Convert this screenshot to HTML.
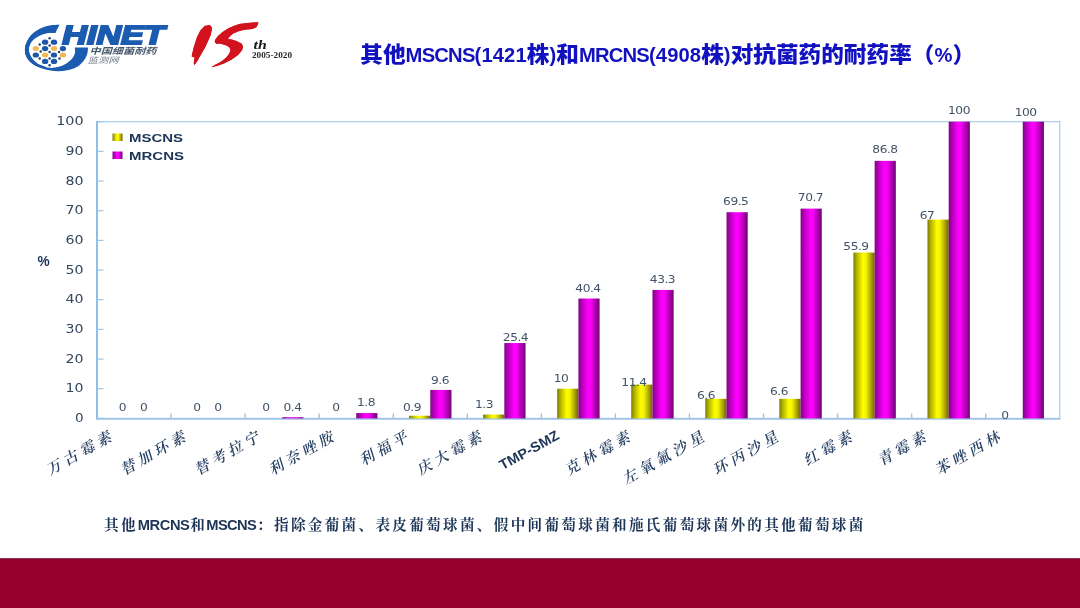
<!DOCTYPE html>
<html lang="zh-CN">
<head>
<meta charset="utf-8">
<title>其他MSCNS和MRCNS对抗菌药的耐药率</title>
<style>
html,body{margin:0;padding:0;background:#fff;overflow:hidden;}
html{width:1080px;height:608px;}
body{width:1080px;height:608px;position:relative;overflow:hidden;font-family:"Liberation Sans","Noto Sans CJK SC",sans-serif;}
#title{position:absolute;left:360.3px;top:37.6px;white-space:nowrap;color:#1111c0;font-weight:900;font-size:22.65px;transform:scaleY(0.96);line-height:32px;font-family:"Liberation Sans","Noto Sans CJK SC",sans-serif;transform-origin:0 50%;}
#title .l{font-size:20.2px;letter-spacing:-0.78px;font-weight:bold;}
#title .d{font-size:20.2px;letter-spacing:0.1px;font-weight:bold;}
#foot{position:absolute;left:104px;top:513px;white-space:nowrap;color:#1c3557;font-weight:bold;font-size:14.6px;line-height:24px;letter-spacing:2.31px;font-family:"Liberation Sans","Noto Serif CJK SC",serif;transform-origin:0 50%;}
#foot .l{font-size:14.7px;letter-spacing:-0.45px;margin-right:0.8px;}
#foot .l2{font-size:14.7px;letter-spacing:-0.66px;margin-right:1px;}
#foot .h{letter-spacing:1.5px;}
svg{position:absolute;left:0;top:0;}
.yl{font-family:"DejaVu Sans","Liberation Sans",sans-serif;font-size:12px;fill:#33475f;}
.dl{font-family:"DejaVu Sans","Liberation Sans",sans-serif;font-size:10.2px;fill:#425368;letter-spacing:-0.4px;}
.xl{font-family:"Liberation Serif","Noto Serif CJK SC",serif;font-size:14.8px;fill:#263f63;letter-spacing:4.2px;font-weight:600;}
.xb{font-family:"Liberation Sans",sans-serif;font-size:14px;fill:#1c3557;font-weight:bold;}
.lg{font-family:"Liberation Sans",sans-serif;font-size:11px;fill:#1c3557;font-weight:bold;}
</style>
</head>
<body>

<svg id="chart" width="1080" height="608" viewBox="0 0 1080 608">
<defs>
<linearGradient id="gy" x1="0" y1="0" x2="1" y2="0">
<stop offset="0" stop-color="#77760a"/><stop offset="0.12" stop-color="#a9a800"/><stop offset="0.45" stop-color="#ffff00"/><stop offset="0.6" stop-color="#f2f200"/><stop offset="0.88" stop-color="#9a8f00"/><stop offset="1" stop-color="#6f6208"/>
</linearGradient>
<linearGradient id="gm" x1="0" y1="0" x2="1" y2="0">
<stop offset="0" stop-color="#7a0a80"/><stop offset="0.12" stop-color="#a800ac"/><stop offset="0.45" stop-color="#ff00ff"/><stop offset="0.6" stop-color="#f200f2"/><stop offset="0.88" stop-color="#97009a"/><stop offset="1" stop-color="#6c0872"/>
</linearGradient>
</defs>
<rect x="97.0" y="121.7" width="962.78" height="296.7" fill="none" stroke="#a9cdee" stroke-width="1.2"/>
<line x1="97.0" y1="121.2" x2="97.0" y2="419.4" stroke="#8fbfe8" stroke-width="2"/>
<line x1="96.0" y1="418.79999999999995" x2="1060.28" y2="418.79999999999995" stroke="#9ec3e6" stroke-width="1.8"/>
<line x1="97.0" y1="418.40" x2="103.5" y2="418.40" stroke="#9cc6ea" stroke-width="1.2"/>
<text class="yl" x="75.00" y="421.90" textLength="8.60" lengthAdjust="spacingAndGlyphs">0</text>
<line x1="97.0" y1="388.73" x2="103.5" y2="388.73" stroke="#9cc6ea" stroke-width="1.2"/>
<text class="yl" x="65.60" y="392.23" textLength="18.00" lengthAdjust="spacingAndGlyphs">10</text>
<line x1="97.0" y1="359.06" x2="103.5" y2="359.06" stroke="#9cc6ea" stroke-width="1.2"/>
<text class="yl" x="65.60" y="362.56" textLength="18.00" lengthAdjust="spacingAndGlyphs">20</text>
<line x1="97.0" y1="329.39" x2="103.5" y2="329.39" stroke="#9cc6ea" stroke-width="1.2"/>
<text class="yl" x="65.60" y="332.89" textLength="18.00" lengthAdjust="spacingAndGlyphs">30</text>
<line x1="97.0" y1="299.72" x2="103.5" y2="299.72" stroke="#9cc6ea" stroke-width="1.2"/>
<text class="yl" x="65.60" y="303.22" textLength="18.00" lengthAdjust="spacingAndGlyphs">40</text>
<line x1="97.0" y1="270.05" x2="103.5" y2="270.05" stroke="#9cc6ea" stroke-width="1.2"/>
<text class="yl" x="65.60" y="273.55" textLength="18.00" lengthAdjust="spacingAndGlyphs">50</text>
<line x1="97.0" y1="240.38" x2="103.5" y2="240.38" stroke="#9cc6ea" stroke-width="1.2"/>
<text class="yl" x="65.60" y="243.88" textLength="18.00" lengthAdjust="spacingAndGlyphs">60</text>
<line x1="97.0" y1="210.71" x2="103.5" y2="210.71" stroke="#9cc6ea" stroke-width="1.2"/>
<text class="yl" x="65.60" y="214.21" textLength="18.00" lengthAdjust="spacingAndGlyphs">70</text>
<line x1="97.0" y1="181.04" x2="103.5" y2="181.04" stroke="#9cc6ea" stroke-width="1.2"/>
<text class="yl" x="65.60" y="184.54" textLength="18.00" lengthAdjust="spacingAndGlyphs">80</text>
<line x1="97.0" y1="151.37" x2="103.5" y2="151.37" stroke="#9cc6ea" stroke-width="1.2"/>
<text class="yl" x="65.60" y="154.87" textLength="18.00" lengthAdjust="spacingAndGlyphs">90</text>
<line x1="97.0" y1="121.70" x2="103.5" y2="121.70" stroke="#9cc6ea" stroke-width="1.2"/>
<text class="yl" x="56.20" y="125.20" textLength="27.40" lengthAdjust="spacingAndGlyphs">100</text>
<line x1="171.06" y1="418.4" x2="171.06" y2="413.4" stroke="#9cc6ea" stroke-width="1.4"/>
<line x1="245.12" y1="418.4" x2="245.12" y2="413.4" stroke="#9cc6ea" stroke-width="1.4"/>
<line x1="319.18" y1="418.4" x2="319.18" y2="413.4" stroke="#9cc6ea" stroke-width="1.4"/>
<line x1="393.24" y1="418.4" x2="393.24" y2="413.4" stroke="#9cc6ea" stroke-width="1.4"/>
<line x1="467.3" y1="418.4" x2="467.3" y2="413.4" stroke="#9cc6ea" stroke-width="1.4"/>
<line x1="541.36" y1="418.4" x2="541.36" y2="413.4" stroke="#9cc6ea" stroke-width="1.4"/>
<line x1="615.4200000000001" y1="418.4" x2="615.4200000000001" y2="413.4" stroke="#9cc6ea" stroke-width="1.4"/>
<line x1="689.48" y1="418.4" x2="689.48" y2="413.4" stroke="#9cc6ea" stroke-width="1.4"/>
<line x1="763.54" y1="418.4" x2="763.54" y2="413.4" stroke="#9cc6ea" stroke-width="1.4"/>
<line x1="837.6" y1="418.4" x2="837.6" y2="413.4" stroke="#9cc6ea" stroke-width="1.4"/>
<line x1="911.6600000000001" y1="418.4" x2="911.6600000000001" y2="413.4" stroke="#9cc6ea" stroke-width="1.4"/>
<line x1="985.72" y1="418.4" x2="985.72" y2="413.4" stroke="#9cc6ea" stroke-width="1.4"/>
<text class="lg" x="37.6" y="266.2" style="font-size:14.8px" textLength="12.2" lengthAdjust="spacingAndGlyphs">%</text>
<rect x="112.5" y="133.5" width="10" height="7.5" fill="url(#gy)"/>
<text class="lg" x="129" y="141.6" textLength="54" lengthAdjust="spacingAndGlyphs">MSCNS</text>
<rect x="112.5" y="151.5" width="10" height="7.5" fill="url(#gm)"/>
<text class="lg" x="129" y="159.6" textLength="55" lengthAdjust="spacingAndGlyphs">MRCNS</text>
<rect x="282.15" y="417.21" width="21.2" height="1.19" fill="url(#gm)"/>
<rect x="356.21" y="413.06" width="21.2" height="5.34" fill="url(#gm)"/>
<rect x="409.07" y="415.73" width="21.2" height="2.67" fill="url(#gy)"/>
<rect x="430.27" y="389.92" width="21.2" height="28.48" fill="url(#gm)"/>
<rect x="483.13" y="414.54" width="21.2" height="3.86" fill="url(#gy)"/>
<rect x="504.33" y="343.04" width="21.2" height="75.36" fill="url(#gm)"/>
<rect x="557.19" y="388.73" width="21.2" height="29.67" fill="url(#gy)"/>
<rect x="578.39" y="298.53" width="21.2" height="119.87" fill="url(#gm)"/>
<rect x="631.25" y="384.58" width="21.2" height="33.82" fill="url(#gy)"/>
<rect x="652.45" y="289.93" width="21.2" height="128.47" fill="url(#gm)"/>
<rect x="705.31" y="398.82" width="21.2" height="19.58" fill="url(#gy)"/>
<rect x="726.51" y="212.19" width="21.2" height="206.21" fill="url(#gm)"/>
<rect x="779.37" y="398.82" width="21.2" height="19.58" fill="url(#gy)"/>
<rect x="800.57" y="208.63" width="21.2" height="209.77" fill="url(#gm)"/>
<rect x="853.43" y="252.54" width="21.2" height="165.86" fill="url(#gy)"/>
<rect x="874.63" y="160.86" width="21.2" height="257.54" fill="url(#gm)"/>
<rect x="927.49" y="219.61" width="21.2" height="198.79" fill="url(#gy)"/>
<rect x="948.69" y="121.70" width="21.2" height="296.70" fill="url(#gm)"/>
<rect x="1022.75" y="121.70" width="21.2" height="296.70" fill="url(#gm)"/>
<text class="dl" transform="translate(122.5,411.20) scale(1.2,1)" text-anchor="middle">0</text>
<text class="dl" transform="translate(143.75,411.20) scale(1.2,1)" text-anchor="middle">0</text>
<text class="dl" transform="translate(197,411.20) scale(1.2,1)" text-anchor="middle">0</text>
<text class="dl" transform="translate(218,411.20) scale(1.2,1)" text-anchor="middle">0</text>
<text class="dl" transform="translate(266,411.20) scale(1.2,1)" text-anchor="middle">0</text>
<text class="dl" transform="translate(292.5,410.70) scale(1.2,1)" text-anchor="middle">0.4</text>
<text class="dl" transform="translate(336,411.20) scale(1.2,1)" text-anchor="middle">0</text>
<text class="dl" transform="translate(366,406.20) scale(1.2,1)" text-anchor="middle">1.8</text>
<text class="dl" transform="translate(412,410.70) scale(1.2,1)" text-anchor="middle">0.9</text>
<text class="dl" transform="translate(440,383.70) scale(1.2,1)" text-anchor="middle">9.6</text>
<text class="dl" transform="translate(484,407.70) scale(1.2,1)" text-anchor="middle">1.3</text>
<text class="dl" transform="translate(515.5,341.20) scale(1.2,1)" text-anchor="middle">25.4</text>
<text class="dl" transform="translate(561,381.70) scale(1.2,1)" text-anchor="middle">10</text>
<text class="dl" transform="translate(588,291.70) scale(1.2,1)" text-anchor="middle">40.4</text>
<text class="dl" transform="translate(634,386.20) scale(1.2,1)" text-anchor="middle">11.4</text>
<text class="dl" transform="translate(662.5,283.20) scale(1.2,1)" text-anchor="middle">43.3</text>
<text class="dl" transform="translate(706,398.70) scale(1.2,1)" text-anchor="middle">6.6</text>
<text class="dl" transform="translate(735.75,205.45) scale(1.2,1)" text-anchor="middle">69.5</text>
<text class="dl" transform="translate(779,394.70) scale(1.2,1)" text-anchor="middle">6.6</text>
<text class="dl" transform="translate(810.5,200.70) scale(1.2,1)" text-anchor="middle">70.7</text>
<text class="dl" transform="translate(856,249.70) scale(1.2,1)" text-anchor="middle">55.9</text>
<text class="dl" transform="translate(885,152.70) scale(1.2,1)" text-anchor="middle">86.8</text>
<text class="dl" transform="translate(927,219.20) scale(1.2,1)" text-anchor="middle">67</text>
<text class="dl" transform="translate(959,114.10) scale(1.2,1)" text-anchor="middle">100</text>
<text class="dl" transform="translate(1005,418.70) scale(1.2,1)" text-anchor="middle">0</text>
<text class="dl" transform="translate(1025.6,115.70) scale(1.2,1)" text-anchor="middle">100</text>
<text class="xl" transform="translate(114.5,432.7) rotate(-29.5) skewX(-12)" text-anchor="end" x="0" y="5.5">万古霉素</text>
<text class="xl" transform="translate(188.6,432.7) rotate(-29.5) skewX(-12)" text-anchor="end" x="0" y="5.5">替加环素</text>
<text class="xl" transform="translate(262.6,432.7) rotate(-29.5) skewX(-12)" text-anchor="end" x="0" y="5.5">替考拉宁</text>
<text class="xl" transform="translate(336.7,432.7) rotate(-29.5) skewX(-12)" text-anchor="end" x="0" y="5.5">利奈唑胺</text>
<text class="xl" transform="translate(410.8,432.7) rotate(-29.5) skewX(-12)" text-anchor="end" x="0" y="5.5">利福平</text>
<text class="xl" transform="translate(484.8,432.7) rotate(-29.5) skewX(-12)" text-anchor="end" x="0" y="5.5">庆大霉素</text>
<text class="xb" transform="translate(558.9,432.7) rotate(-29)" text-anchor="end" x="-1.5" y="5.6" textLength="66" lengthAdjust="spacingAndGlyphs">TMP-SMZ</text>
<text class="xl" transform="translate(633.0,432.7) rotate(-29.5) skewX(-12)" text-anchor="end" x="0" y="5.5">克林霉素</text>
<text class="xl" transform="translate(707.0,432.7) rotate(-29.5) skewX(-12)" text-anchor="end" x="0" y="5.5">左氧氟沙星</text>
<text class="xl" transform="translate(781.1,432.7) rotate(-29.5) skewX(-12)" text-anchor="end" x="0" y="5.5">环丙沙星</text>
<text class="xl" transform="translate(855.1,432.7) rotate(-29.5) skewX(-12)" text-anchor="end" x="0" y="5.5">红霉素</text>
<text class="xl" transform="translate(929.2,432.7) rotate(-29.5) skewX(-12)" text-anchor="end" x="0" y="5.5">青霉素</text>
<text class="xl" transform="translate(1003.2,432.7) rotate(-29.5) skewX(-12)" text-anchor="end" x="0" y="5.5">苯唑西林</text>
<rect x="0" y="558.4" width="1080" height="50" fill="#95002d"/><rect x="0" y="558.4" width="1080" height="1" fill="#7a0a2a"/>
<g id="logo1">
<path d="M59.46,24.71 C57.81,24.82 52.88,24.74 49.59,25.40 C46.30,26.06 42.69,27.12 39.73,28.65 C36.77,30.18 34.01,32.32 31.84,34.57 C29.67,36.82 27.86,39.83 26.71,42.17 C25.56,44.50 25.06,46.36 24.93,48.58 C24.80,50.80 25.10,53.35 25.92,55.48 C26.74,57.62 28.06,59.59 29.86,61.40 C31.67,63.21 33.97,64.94 36.77,66.34 C39.56,67.73 43.18,68.97 46.63,69.79 C50.09,70.61 54.03,71.19 57.48,71.27 C60.94,71.35 64.23,70.94 67.35,70.28 C70.47,69.62 73.60,68.80 76.23,67.32 C78.86,65.84 81.32,63.54 83.13,61.40 C84.94,59.27 86.26,56.80 87.08,54.50 C87.90,52.20 87.90,48.74 88.06,47.59 L74.75,47.59 C74.80,48.42 75.45,50.72 75.04,52.53 C74.63,54.33 73.73,56.64 72.28,58.44 C70.83,60.25 68.66,61.98 66.36,63.38 C64.06,64.77 61.27,66.09 58.47,66.83 C55.68,67.57 52.55,68.06 49.59,67.82 C46.63,67.57 43.35,66.58 40.72,65.35 C38.08,64.12 35.62,62.23 33.81,60.42 C32.00,58.61 30.69,56.47 29.86,54.50 C29.04,52.53 28.71,50.55 28.88,48.58 C29.04,46.61 29.70,44.47 30.85,42.66 C32.00,40.85 33.81,39.13 35.78,37.73 C37.76,36.33 40.39,35.10 42.69,34.28 C44.99,33.45 47.46,33.04 49.59,32.80 C51.73,32.55 54.53,32.80 55.51,32.80 Z" fill="#1b5bb0"/>
<clipPath id="cc"><path d="M59.46,24.71 C57.81,24.82 52.88,24.74 49.59,25.40 C46.30,26.06 42.69,27.12 39.73,28.65 C36.77,30.18 34.01,32.32 31.84,34.57 C29.67,36.82 27.86,39.83 26.71,42.17 C25.56,44.50 25.06,46.36 24.93,48.58 C24.80,50.80 25.10,53.35 25.92,55.48 C26.74,57.62 28.06,59.59 29.86,61.40 C31.67,63.21 33.97,64.94 36.77,66.34 C39.56,67.73 43.18,68.97 46.63,69.79 C50.09,70.61 54.03,71.19 57.48,71.27 C60.94,71.35 64.23,70.94 67.35,70.28 C70.47,69.62 73.60,68.80 76.23,67.32 C78.86,65.84 81.32,63.54 83.13,61.40 C84.94,59.27 86.26,56.80 87.08,54.50 C87.90,52.20 87.90,48.74 88.06,47.59 L74.75,47.59 C74.80,48.42 75.45,50.72 75.04,52.53 C74.63,54.33 73.73,56.64 72.28,58.44 C70.83,60.25 68.66,61.98 66.36,63.38 C64.06,64.77 61.27,66.09 58.47,66.83 C55.68,67.57 52.55,68.06 49.59,67.82 C46.63,67.57 43.35,66.58 40.72,65.35 C38.08,64.12 35.62,62.23 33.81,60.42 C32.00,58.61 30.69,56.47 29.86,54.50 C29.04,52.53 28.71,50.55 28.88,48.58 C29.04,46.61 29.70,44.47 30.85,42.66 C32.00,40.85 33.81,39.13 35.78,37.73 C37.76,36.33 40.39,35.10 42.69,34.28 C44.99,33.45 47.46,33.04 49.59,32.80 C51.73,32.55 54.53,32.80 55.51,32.80 Z"/><polygon points="59.5,47.5 65.2,21 174,21 174,47.5"/></clipPath>
<ellipse cx="45.1" cy="42.2" rx="3.2" ry="2.6" fill="#1c57a8"/>
<ellipse cx="54.0" cy="42.2" rx="3.2" ry="2.6" fill="#1c57a8"/>
<ellipse cx="45.1" cy="48.6" rx="3.2" ry="2.6" fill="#1c57a8"/>
<ellipse cx="62.9" cy="48.6" rx="3.2" ry="2.6" fill="#1c57a8"/>
<ellipse cx="35.8" cy="55.0" rx="3.2" ry="2.6" fill="#1c57a8"/>
<ellipse cx="54.0" cy="55.0" rx="3.2" ry="2.6" fill="#1c57a8"/>
<ellipse cx="45.1" cy="61.4" rx="3.2" ry="2.6" fill="#1c57a8"/>
<ellipse cx="54.0" cy="61.4" rx="3.2" ry="2.6" fill="#1c57a8"/>
<ellipse cx="35.8" cy="48.6" rx="3.2" ry="2.5" fill="#f1b955"/>
<ellipse cx="54.0" cy="48.6" rx="3.2" ry="2.5" fill="#f1b955"/>
<ellipse cx="45.1" cy="55.0" rx="3.2" ry="2.5" fill="#f1b955"/>
<ellipse cx="62.9" cy="55.0" rx="3.2" ry="2.5" fill="#f1b955"/>
<circle cx="49.6" cy="38.2" r="1.25" fill="#23466f"/>
<circle cx="39.7" cy="44.6" r="1.25" fill="#23466f"/>
<circle cx="49.6" cy="45.6" r="1.25" fill="#23466f"/>
<circle cx="40.7" cy="51.5" r="1.25" fill="#23466f"/>
<circle cx="49.6" cy="52.0" r="1.25" fill="#23466f"/>
<circle cx="59.0" cy="52.0" r="1.25" fill="#23466f"/>
<circle cx="39.7" cy="58.4" r="1.25" fill="#23466f"/>
<circle cx="49.6" cy="58.4" r="1.25" fill="#23466f"/>
<circle cx="59.5" cy="58.4" r="1.25" fill="#23466f"/>
<circle cx="49.6" cy="65.3" r="1.25" fill="#23466f"/>
<g clip-path="url(#cc)"><text font-family="'Liberation Sans',sans-serif" font-weight="bold" font-style="italic" fill="#1b5bb0" stroke="#1b5bb0"><tspan x="22.5" y="65.5" font-size="50" stroke-width="3">C</tspan><tspan x="62.3" y="43.6" font-size="25.2" stroke-width="1.8" textLength="102.3" lengthAdjust="spacingAndGlyphs">HINET</tspan></text></g>
<text x="89.5" y="54.4" font-family="'Liberation Sans','Noto Sans CJK SC',sans-serif" font-weight="bold" font-style="italic" font-size="8.6" fill="#46566a" textLength="67" lengthAdjust="spacingAndGlyphs" transform="translate(0,0)">中国细菌耐药</text>
<text x="87.5" y="63.2" font-family="'Liberation Sans','Noto Sans CJK SC',sans-serif" font-style="italic" font-size="8" fill="#6c7785" textLength="31" lengthAdjust="spacingAndGlyphs">监测网</text>
</g>
<g id="logo2">
<clipPath id="c15"><polygon points="204.7,25.7 209.7,24.7 212.1,27.8 210.8,34.7 205.2,47.6 198.3,59.4 194.6,65.1 193.7,63.3 194.7,57.6 191.7,56.4 193.2,48.5 196.6,37.7 200.8,29.8"/><polygon points="258.5,22.3 253.9,22.3 246.6,22.9 240.1,23.8 233.6,26.0 228.1,28.4 222.6,31.9 218.0,35.8 215.2,39.5 214.6,41.8 216.1,43.6 221.7,44.1 226.3,45.5 229.5,47.8 230.4,50.6 229.0,53.8 226.3,57.5 221.7,61.2 215.2,64.8 211.1,67.2 217.1,66.0 224.4,63.2 231.8,59.5 238.3,54.9 242.4,50.1 243.1,46.4 241.5,43.6 237.3,41.3 232.7,39.8 228.1,38.9 229.5,36.7 232.7,34.0 238.3,31.4 244.7,29.8 252.1,28.9 256.2,27.5 257.6,25.2"/></clipPath>
<g clip-path="url(#c15)"><text transform="matrix(0.6843 -0.0544 -0.3405 0.6120 197.21 67.40)" font-family="'Liberation Sans',sans-serif" font-weight="bold" font-style="italic" font-size="100" fill="#d2121c" stroke="#d2121c" stroke-linejoin="round"><tspan x="-43.2" y="-3.2" stroke-width="30">1</tspan><tspan x="0" y="0" stroke-width="9">5</tspan></text></g>
<text x="253.6" y="48.5" font-family="'Liberation Serif',serif" font-weight="bold" font-style="italic" font-size="12.5" fill="#1a1a1a" textLength="13.2" lengthAdjust="spacingAndGlyphs">th</text>
<text x="252" y="58" font-family="'Liberation Serif',serif" font-weight="bold" font-size="7.6" fill="#2a2a2a" textLength="40" lengthAdjust="spacingAndGlyphs">2005-2020</text>
</g>
</svg>
<div id="title">其他<span class="l">MSCNS</span><span class="d">(1421</span>株<span class="d">)</span>和<span class="l">MRCNS</span><span class="d">(4908</span>株<span class="d">)</span>对抗菌药的耐药率（<span class="d">%</span>）</div>
<div id="foot">其他<span class="l">MRCNS</span><span class="h">和</span><span class="l2">MSCNS</span>：指除金葡菌、表皮葡萄球菌、假中间葡萄球菌和施氏葡萄球菌外的其他葡萄球菌</div>
</body>
</html>
